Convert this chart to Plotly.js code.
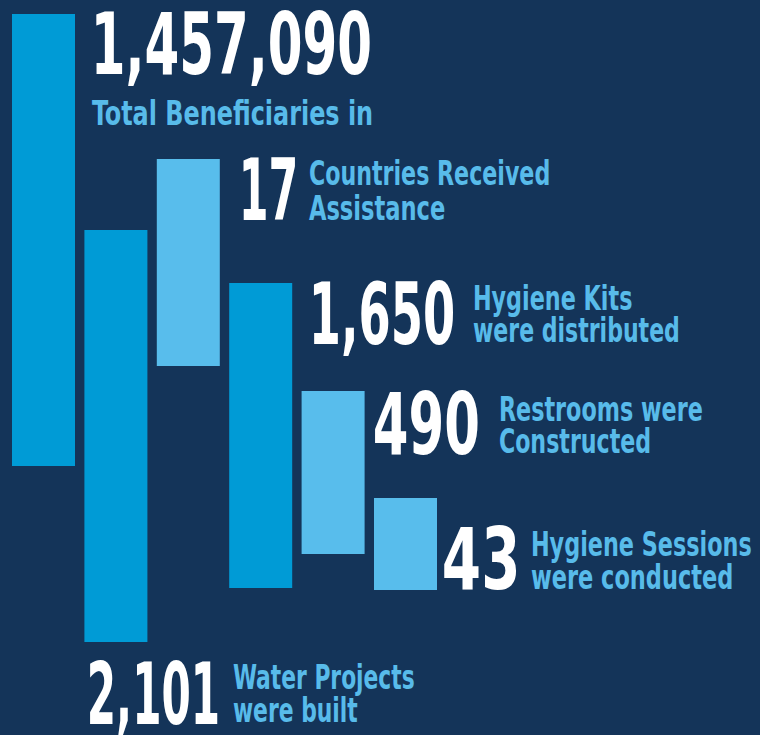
<!DOCTYPE html>
<html>
<head>
<meta charset="utf-8">
<script src="https://cdn.plot.ly/plotly-3.0.1.min.js"></script>
<style>
  html, body { margin: 0; padding: 0; background: #143459; }
  #chart { width: 760px; height: 735px; }
</style>
</head>
<body>
<div id="chart"></div>
<script>
// ---- Data ----
const valueLabels = ['1,457,090', '2,101', '17', '1,650', '490', '43'];
const values = [1457090, 2101, 17, 1650, 490, 43];
const captionLine1 = ['Total Beneficiaries in', 'Water Projects', 'Countries Received', 'Hygiene Kits', 'Restrooms were', 'Hygiene Sessions'];
const captionLine2 = ['', 'were built', 'Assistance', 'were distributed', 'Constructed', 'were conducted'];
// floating bar extents (chart units, 0 = top)
const barFrom = [14, 230, 159, 283, 391, 498];
const barTo = [466, 642, 366, 588, 554, 590];

// ---- Styles / layout ----
const W = 760, H = 735;
const BG = '#143459';
const DARK = '#009bd6', LIGHT = '#58bdec', TEXTBLUE = '#58bbea';
const barColors = [DARK, DARK, LIGHT, DARK, LIGHT, LIGHT];
const FONT = '"Liberation Sans Narrow", "DejaVu Sans Condensed", "Arial Narrow", sans-serif';

const pitch = 72.4, firstCenter = 43.5;
const xIdx = values.map((_, i) => i);

// label placement (pixels)
const numPos = [[90, 44.5], [86, 694.5], [238, 191], [308, 314.5], [372, 424], [441, 559]];
const numWidth = [282, 134, 60, 147, 108, 79];
const capPos = [[91, 113, 0], [232, 677, 710], [308, 174, 208], [472, 298, 331], [498, 409, 442], [530, 544, 577]];
const cap1Width = [282, 183, 242, 160, 205, 222];
const cap2Width = [0, 126, 137, 208, 153, 203];

const px = x => x / W;
const py = y => 1 - y / H;

const annotations = [];
const fitWidths = [];
valueLabels.forEach((t, i) => {
  annotations.push({
    xref: 'paper', yref: 'paper', x: px(numPos[i][0]), y: py(numPos[i][1]),
    xanchor: 'left', yanchor: 'middle', showarrow: false, borderpad: 0,
    text: t, font: { family: FONT, size: 85, color: '#ffffff', weight: 'bold' }
  });
  fitWidths.push(numWidth[i]);
});
captionLine1.forEach((t, i) => {
  annotations.push({
    xref: 'paper', yref: 'paper', x: px(capPos[i][0]), y: py(capPos[i][1]),
    xanchor: 'left', yanchor: 'middle', showarrow: false, borderpad: 0,
    text: t, font: { family: FONT, size: 33, color: TEXTBLUE, weight: 'bold' }
  });
  fitWidths.push(cap1Width[i]);
  if (captionLine2[i]) {
    annotations.push({
      xref: 'paper', yref: 'paper', x: px(capPos[i][0]), y: py(capPos[i][2]),
      xanchor: 'left', yanchor: 'middle', showarrow: false, borderpad: 0,
      text: captionLine2[i], font: { family: FONT, size: 33, color: TEXTBLUE, weight: 'bold' }
    });
    fitWidths.push(cap2Width[i]);
  }
});

const trace = {
  type: 'bar',
  x: xIdx,
  base: barFrom,
  y: barTo.map((v, i) => v - barFrom[i]),
  width: 63 / pitch,
  marker: { color: barColors, line: { width: 0 } },
  customdata: values,
  hoverinfo: 'skip'
};

const layout = {
  width: W, height: H,
  margin: { l: 0, r: 0, t: 0, b: 0, pad: 0 },
  paper_bgcolor: BG, plot_bgcolor: BG,
  showlegend: false,
  xaxis: { range: [-firstCenter / pitch, (W - firstCenter) / pitch], visible: false, fixedrange: true },
  yaxis: { range: [H, 0], visible: false, fixedrange: true },
  annotations: annotations
};

Plotly.newPlot('chart', [trace], layout, { staticPlot: true, displayModeBar: false }).then(gd => {
  // condense each label horizontally to the width of the reference's condensed typeface
  gd.querySelectorAll('g.annotation').forEach(g => {
    const i = +g.getAttribute('data-index');
    const target = fitWidths[i];
    if (!target) return;
    const bb = g.getBBox();
    if (!bb.width) return;
    const s = Math.min(1, target / bb.width);
    const prev = g.getAttribute('transform') || '';
    g.setAttribute('transform', prev + ` translate(${bb.x},0) scale(${s},1) translate(${-bb.x},0)`);
  });
});
</script>
</body>
</html>
